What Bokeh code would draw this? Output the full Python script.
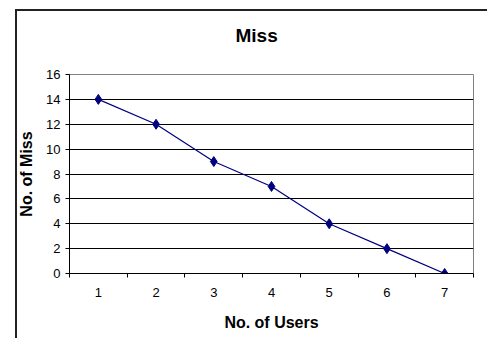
from bokeh.plotting import figure
from bokeh.models import FixedTicker, Range1d
from bokeh.embed import file_html
from bokeh.resources import INLINE

chart_title = "Miss"
users = [1, 2, 3, 4, 5, 6, 7]
misses = [14, 12, 9, 7, 4, 2, 0]
y_ticks = [0, 2, 4, 6, 8, 10, 12, 14, 16]
grid_ticks = [2, 4, 6, 8, 10, 12, 14]
x_bounds = [0.5, 1.5, 2.5, 3.5, 4.5, 5.5, 6.5, 7.5]

FONT = "Liberation Sans"

p = figure(width=487, height=344, output_backend="svg", toolbar_location=None,
           x_range=Range1d(0.5, 7.5), y_range=Range1d(0, 16),
           min_border_left=69, min_border_right=14, min_border_top=80, min_border_bottom=65,
           title=chart_title)
# outer chart border (left + top edges) drawn as CSS background behind a transparent canvas border
p.styles = {
    "margin-top": "-6px",
    "background-color": "white",
    "background-image": "linear-gradient(#222222, #222222), linear-gradient(#222222, #222222)",
    "background-repeat": "no-repeat",
    "background-size": "2px 100%, 100% 2px",
    "background-position": "15px 15px, 15px 15px",
}

p.background_fill_color = "white"
p.border_fill_color = None
p.outline_line_color = "#808080"
p.outline_line_width = 1

p.title.text_font = FONT
p.title.text_font_size = "19px"
p.title.text_font_style = "bold"
p.title.align = "left"
p.title.offset = 166
p.title.standoff = 57
p.title.text_color = "black"

p.line(users, misses, line_color="#000080", line_width=1.2)
p.scatter(users, misses, marker="diamond", size=10, fill_color="#000080", line_color="#000080")

# y axis
p.yaxis.ticker = FixedTicker(ticks=y_ticks)
p.yaxis.major_tick_out = 4
p.yaxis.major_tick_in = 0
p.yaxis.minor_tick_line_color = None
p.yaxis.axis_line_color = "black"
p.yaxis.major_tick_line_color = "black"
p.yaxis.major_label_text_font = FONT
p.yaxis.major_label_text_font_size = "13px"
p.yaxis.major_label_text_color = "black"
p.yaxis.major_label_standoff = 5
p.yaxis.axis_label = "No. of Miss"
p.yaxis.axis_label_text_font = FONT
p.yaxis.axis_label_text_font_size = "16px"
p.yaxis.axis_label_text_font_style = "bold"
p.yaxis.axis_label_text_color = "black"
p.yaxis.axis_label_standoff = 8

# x axis
p.xaxis.ticker = FixedTicker(ticks=users, minor_ticks=x_bounds)
p.xaxis.major_tick_out = 0
p.xaxis.major_tick_in = 0
p.xaxis.minor_tick_out = 4
p.xaxis.minor_tick_in = 0
p.xaxis.minor_tick_line_color = "black"
p.xaxis.axis_line_color = "black"
p.xaxis.major_label_text_font = FONT
p.xaxis.major_label_text_font_size = "13px"
p.xaxis.major_label_text_color = "black"
p.xaxis.major_label_standoff = 10
p.xaxis.axis_label = "No. of Users"
p.xaxis.axis_label_text_font = FONT
p.xaxis.axis_label_text_font_size = "16px"
p.xaxis.axis_label_text_font_style = "bold"
p.xaxis.axis_label_text_color = "black"
p.xaxis.axis_label_standoff = 14

p.xgrid.visible = False
p.ygrid.ticker = FixedTicker(ticks=grid_ticks)
p.ygrid.grid_line_color = "black"
p.ygrid.grid_line_alpha = 1
p.ygrid.grid_line_width = 1

open("out.html", "w").write(file_html(p, INLINE))
